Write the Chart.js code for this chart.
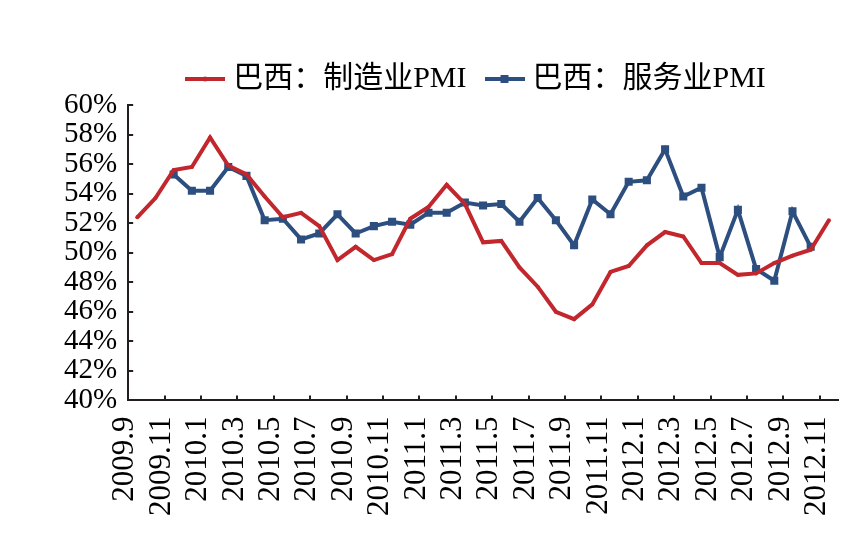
<!DOCTYPE html>
<html>
<head>
<meta charset="utf-8">
<script src="https://cdn.jsdelivr.net/npm/chart.js@4.4.0/dist/chart.umd.min.js"></script>
<style>
  body { margin: 0; background: #fff; }
  #wrap { width: 855px; height: 547px; }
</style>
</head>
<body>
<div id="wrap"><canvas id="pmiChart" width="855" height="547"></canvas></div>
<script>
// months 2009.9 .. 2012.11
const months = [
    '2009.9', '2009.10', '2009.11', '2009.12', '2010.1', '2010.2', '2010.3', '2010.4',
    '2010.5', '2010.6', '2010.7', '2010.8', '2010.9', '2010.10', '2010.11', '2010.12',
    '2011.1', '2011.2', '2011.3', '2011.4', '2011.5', '2011.6', '2011.7', '2011.8',
    '2011.9', '2011.10', '2011.11', '2011.12', '2012.1', '2012.2', '2012.3', '2012.4',
    '2012.5', '2012.6', '2012.7', '2012.8', '2012.9', '2012.10', '2012.11'
];
const seriesNames = ['巴西：制造业PMI', '巴西：服务业PMI'];
const manufacturing = [
    52.4, 53.7, 55.6, 55.8, 57.8, 55.9, 55.3, 53.8,
    52.4, 52.7, 51.8, 49.5, 50.4, 49.5, 49.9, 52.3,
    53.1, 54.6, 53.3, 50.7, 50.8, 49.0, 47.7, 46.0,
    45.5, 46.5, 48.7, 49.1, 50.5, 51.4, 51.1, 49.3,
    49.3, 48.5, 48.6, 49.3, 49.8, 50.2, 52.2
];
const services = [
    null, null, 55.3, 54.2, 54.2, 55.8, 55.2, 52.2,
    52.3, 50.9, 51.3, 52.6, 51.3, 51.8, 52.1, 51.9,
    52.7, 52.7, 53.4, 53.2, 53.3, 52.1, 53.7, 52.2,
    50.5, 53.6, 52.6, 54.8, 54.9, 57.0, 53.8, 54.4,
    49.7, 52.9, 48.9, 48.1, 52.8, 50.4, null
];
const yTicks = { min: 40, max: 60, step: 2 };

const RED = '#c1272d';
const BLUE = '#2c4f80';
const AXIS = '#231f20';
const FONT = '"Liberation Serif", "Noto Sans CJK SC", serif';

// little line+marker swatches for the legend
function swatch(color, marker) {
    const c = document.createElement('canvas');
    c.width = 40; c.height = 12;
    const g = c.getContext('2d');
    g.strokeStyle = color;
    g.lineWidth = 4;
    g.beginPath(); g.moveTo(0, 6); g.lineTo(40, 6); g.stroke();
    g.fillStyle = color;
    if (marker === 'square') g.fillRect(16, 2, 8, 8);
    else { g.beginPath(); g.arc(20, 6, 2.5, 0, Math.PI * 2); g.fill(); }
    return c;
}
const swatches = [swatch(RED, 'dot'), swatch(BLUE, 'square')];

// legend sits centred over the plot, not the canvas
const shiftLegend = {
    id: 'shiftLegend',
    afterLayout(chart) {
        chart.legend.left += 36;
        chart.legend.right += 36;
        chart.legend.top -= 1;
        chart.legend.bottom -= 1;
    }
};

const ctx = document.getElementById('pmiChart').getContext('2d');
const pmiChart = new Chart(ctx, {
    type: 'line',
    data: {
        labels: months,
        datasets: [{
            label: seriesNames[0],
            data: manufacturing,
            borderColor: RED,
            backgroundColor: RED,
            borderWidth: 4,
            pointStyle: 'circle',
            pointRadius: 2,
            pointBorderWidth: 0,
            tension: 0
        }, {
            label: seriesNames[1],
            data: services,
            borderColor: BLUE,
            backgroundColor: BLUE,
            borderWidth: 4,
            pointStyle: 'rect',
            pointRadius: 5.7,
            pointBorderWidth: 0,
            tension: 0
        }]
    },
    options: {
        responsive: false,
        animation: false,
        layout: { padding: { top: 40, left: 48, right: 17, bottom: 10 } },
        plugins: {
            tooltip: { enabled: false },
            legend: {
                position: 'top',
                labels: {
                    usePointStyle: true,
                    pointStyleWidth: 26,
                    padding: 25,
                    color: '#000',
                    font: { family: FONT, size: 30 },
                    generateLabels: (chart) => chart.data.datasets.map((ds, i) => ({
                        text: ds.label,
                        pointStyle: swatches[i],
                        fillStyle: ds.borderColor,
                        strokeStyle: ds.borderColor,
                        lineWidth: 0,
                        fontColor: '#000',
                        datasetIndex: i,
                        hidden: false
                    }))
                }
            }
        },
        scales: {
            x: {
                type: 'category',
                offset: true,
                border: { display: true, color: AXIS, width: 2 },
                grid: {
                    offset: true,
                    drawOnChartArea: false,
                    drawTicks: true,
                    tickLength: -5,
                    lineWidth: 2,
                    color: (c) => (c.index % 2 === 0 ? AXIS : 'rgba(0,0,0,0)')
                },
                ticks: {
                    autoSkip: false,
                    minRotation: 90,
                    maxRotation: 90,
                    padding: 21,
                    labelOffset: -12,
                    color: '#000',
                    font: { family: FONT, size: 31 },
                    callback: function (v, i) { return i % 2 === 0 ? months[i] : ''; }
                },
                afterFit: (scale) => {
                    scale.paddingLeft = 0;
                    scale.paddingRight = 0;
                }
            },
            y: {
                min: yTicks.min,
                max: yTicks.max,
                border: { display: true, color: AXIS, width: 2 },
                grid: {
                    drawOnChartArea: false,
                    drawTicks: true,
                    tickLength: -5,
                    lineWidth: 2,
                    color: AXIS
                },
                ticks: {
                    stepSize: yTicks.step,
                    autoSkip: false,
                    padding: 16,
                    color: '#000',
                    font: { family: FONT, size: 29 },
                    callback: (v) => v + '%'
                }
            }
        }
    },
    plugins: [shiftLegend]
});
</script>
</body>
</html>
